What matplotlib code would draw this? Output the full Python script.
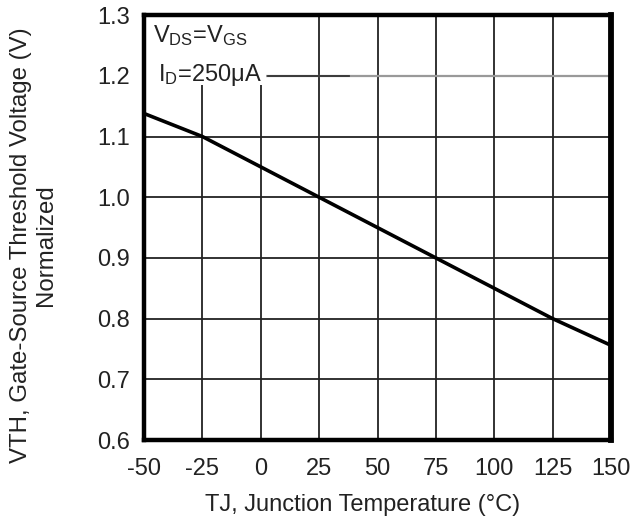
import matplotlib
matplotlib.use('Agg')
import matplotlib.pyplot as plt
from matplotlib.patches import Rectangle

plt.rcParams['font.family'] = ['Liberation Sans', 'DejaVu Sans']
plt.rcParams['mathtext.fontset'] = 'custom'
plt.rcParams['mathtext.rm'] = 'Liberation Sans'
plt.rcParams['mathtext.it'] = 'Liberation Sans:italic'
plt.rcParams['axes.unicode_minus'] = False

# curve (temperature in degC, normalised VTH)
temp_c = [-50, -25, 25, 75, 125, 150]
vth_norm = [1.138, 1.10, 1.00, 0.90, 0.80, 0.756]

x_ticks = [-50, -25, 0, 25, 50, 75, 100, 125, 150]
y_ticks = [0.6, 0.7, 0.8, 0.9, 1.0, 1.1, 1.2, 1.3]
y_tick_labels = ['0.6', '0.7', '0.8', '0.9', '1.0', '1.1', '1.2', '1.3']

fig = plt.figure(figsize=(6.38, 5.22), dpi=100)
ax = fig.add_axes([0.2257, 0.157, 0.732, 0.814])

ax.set_xlim(-50, 150)
ax.set_ylim(0.6, 1.3)
ax.set_xticks(x_ticks)
ax.set_yticks(y_ticks)
ax.set_yticklabels(y_tick_labels)
ax.tick_params(length=0, labelsize=17, pad=10, colors='#222222')
ax.tick_params(axis='x', pad=13)

ax.set_axisbelow(True)
ax.grid(True, color='#222222', linewidth=1.3)
# top gridline (1.2) is drawn grey in the original
for val, gl in zip(y_ticks, ax.get_ygridlines()):
    if abs(val - 1.2) < 1e-6:
        gl.set_color('#999999')
        gl.set_linewidth(1.6)
ax.plot([0.265, 0.44], [6 / 7, 6 / 7], transform=ax.transAxes,
        color='#333333', lw=1.3, zorder=0.8)

# white panel behind the test conditions
ax.add_patch(Rectangle((0, 0.835), 0.262, 0.17, transform=ax.transAxes,
                       facecolor='white', edgecolor='none', zorder=0.7))

ax.plot(temp_c, vth_norm, color='black', lw=2.6, zorder=2)

for side in ['left', 'bottom', 'top']:
    ax.spines[side].set_linewidth(3.2)
ax.spines['right'].set_linewidth(4.2)
for sp in ax.spines.values():
    sp.set_zorder(3)

ax.text(0.02, 0.982, r'V$_{\mathrm{DS}}$=V$_{\mathrm{GS}}$', transform=ax.transAxes,
        fontsize=17, va='top', ha='left', color='#222222', zorder=4)
ax.text(0.03, 0.89, r'I$_{\mathrm{D}}$=250μA', transform=ax.transAxes,
        fontsize=17, va='top', ha='left', color='#222222', zorder=4)

ax.set_xlabel('TJ, Junction Temperature (°C)', fontsize=17, color='#222222')
ax.xaxis.set_label_coords(0.468, -0.126)
ax.set_ylabel('VTH, Gate-Source Threshold Voltage (V)\nNormalized', fontsize=17.3,
              color='#222222', linespacing=1.2)
ax.yaxis.set_label_coords(-0.186, 0.458)

fig.savefig('out.png', dpi=100)
